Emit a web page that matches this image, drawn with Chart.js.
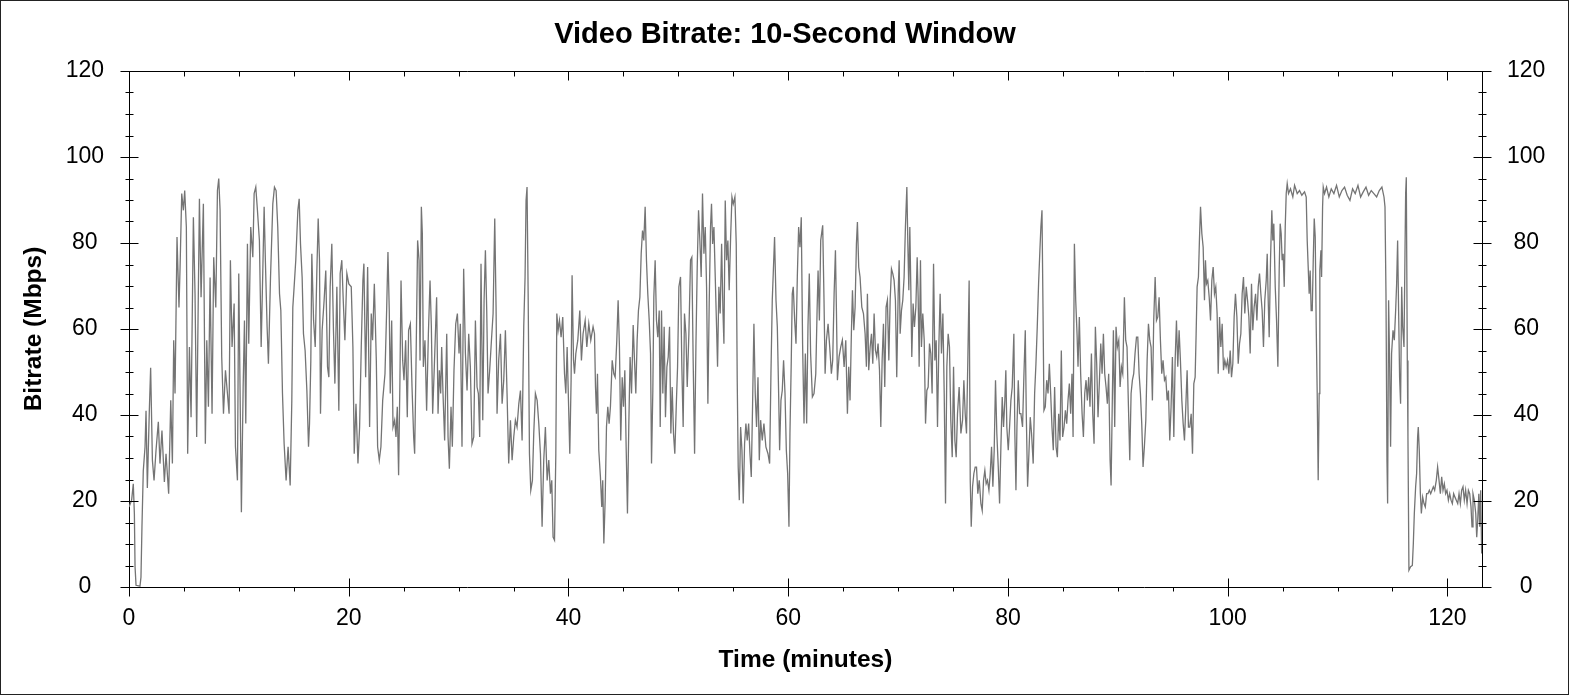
<!DOCTYPE html>
<html>
<head>
<meta charset="utf-8">
<title>Video Bitrate: 10-Second Window</title>
<script src="https://cdn.jsdelivr.net/npm/chart.js@4.4.1/dist/chart.umd.min.js"></script>
<style>
  html, body { margin: 0; padding: 0; background: #fff; }
  #grafico { display: block; }
</style>
</head>
<body>
<canvas id="grafico" width="1570" height="695"></canvas>
<script>
// tempo (minutos) e bitrate (Mbps)
const minutos = [
  0, 0.24, 0.39, 0.49, 0.55, 0.64, 1.0, 1.09, 1.18, 1.3, 1.46, 1.55, 1.67, 1.85, 1.97, 2.13, 2.28, 2.46, 2.67, 2.82,
  3.0, 3.22, 3.37, 3.61, 3.8, 3.95, 4.07, 4.19, 4.37, 4.55, 4.65, 4.8, 4.95, 5.07, 5.22, 5.34, 5.5, 5.65, 5.86, 6.01,
  6.16, 6.41, 6.56, 6.77, 6.95, 7.08, 7.23, 7.38, 7.56, 7.71, 7.9, 8.05, 8.17, 8.29, 8.44, 8.6, 8.78, 8.96, 9.11, 9.23,
  9.38, 9.57, 9.69, 9.87, 9.99, 10.11, 10.23, 10.39, 10.51, 10.63, 10.78, 10.9, 11.08, 11.27, 11.39, 11.54, 11.69, 11.87, 12.03, 12.18,
  12.3, 12.42, 12.57, 12.69, 12.88, 13.09, 13.24, 13.39, 13.54, 13.7, 13.82, 13.97, 14.12, 14.3, 14.48, 14.67, 14.82, 14.91, 15.03, 15.18,
  15.37, 15.49, 15.61, 15.76, 15.88, 16.03, 16.19, 16.34, 16.43, 16.55, 16.64, 16.8, 16.95, 17.1, 17.22, 17.34, 17.43, 17.58, 17.76, 17.91,
  18.07, 18.19, 18.31, 18.46, 18.61, 18.74, 18.92, 19.1, 19.22, 19.37, 19.5, 19.65, 19.83, 20.01,
  20.23, 20.38, 20.5, 20.66, 20.84, 20.99, 21.14, 21.29, 21.38, 21.54, 21.72, 21.9, 22.05, 22.17, 22.33, 22.51, 22.63, 22.78, 22.93, 23.09,
  23.3, 23.45, 23.57, 23.69, 23.78, 23.91, 24.03, 24.18, 24.3, 24.42, 24.54, 24.66, 24.76, 24.91, 25.03, 25.18, 25.33, 25.45, 25.61, 25.76,
  25.91, 26.0, 26.12, 26.27, 26.4, 26.49, 26.61, 26.7, 26.79, 26.94, 27.09, 27.25, 27.4, 27.52, 27.64, 27.79, 27.91, 28.0, 28.13, 28.25,
  28.37, 28.46, 28.58, 28.73, 28.92, 29.04, 29.16, 29.31, 29.43, 29.58, 29.74, 29.89, 30.04, 30.16, 30.31, 30.46, 30.62, 30.77, 30.92, 31.07,
  31.22, 31.38, 31.53, 31.68, 31.8, 31.92, 32.04, 32.2, 32.32, 32.44, 32.56, 32.68, 32.83, 32.99, 33.14, 33.29, 33.41, 33.5, 33.65, 33.81,
  33.96, 34.11, 34.26, 34.41, 34.56, 34.72, 34.87, 35.02, 35.17, 35.32, 35.48, 35.63, 35.78, 35.93, 36.05, 36.14, 36.23, 36.33, 36.45, 36.57,
  36.72, 36.84, 36.99, 37.15, 37.3, 37.45, 37.6, 37.75, 37.9, 38.06, 38.21, 38.36, 38.48, 38.6, 38.73, 38.85, 38.94, 39.06, 39.18, 39.33,
  39.48, 39.64, 39.76, 39.88, 40.0, 40.12, 40.24, 40.33, 40.46, 40.55, 40.67, 40.85, 41.03,
  41.18, 41.33, 41.52, 41.67, 41.85, 42.03, 42.24, 42.37, 42.46, 42.55, 42.64, 42.76, 42.91, 43.03, 43.12, 43.22, 43.34, 43.46, 43.58, 43.7,
  43.82, 43.98, 44.13, 44.25, 44.4, 44.52, 44.64, 44.76, 44.89, 45.01, 45.13, 45.25, 45.37, 45.49, 45.61, 45.74, 45.89, 46.01, 46.13, 46.25,
  46.37, 46.5, 46.62, 46.74, 46.86, 46.98, 47.1, 47.22, 47.35, 47.47, 47.56, 47.68, 47.77, 47.89, 48.01, 48.13, 48.26, 48.35, 48.47, 48.59,
  48.71, 48.83, 48.96, 49.08, 49.2, 49.32, 49.44, 49.56, 49.68, 49.81, 49.93, 50.05, 50.2, 50.32, 50.44, 50.56, 50.69, 50.81, 50.96, 51.11,
  51.23, 51.35, 51.48, 51.6, 51.72, 51.84, 51.96, 52.08, 52.2, 52.33, 52.45, 52.57, 52.69, 52.81, 52.93, 53.02, 53.12, 53.24, 53.36, 53.48,
  53.57, 53.69, 53.81, 53.94, 54.06, 54.15, 54.27, 54.39, 54.51, 54.63, 54.76, 54.88, 55.0, 55.15, 55.27, 55.36, 55.45, 55.55, 55.67, 55.79,
  55.91, 56.03, 56.15, 56.27, 56.4, 56.52, 56.64, 56.76, 56.88, 57.0, 57.12, 57.25, 57.37, 57.49, 57.64, 57.79, 57.97, 58.16, 58.31, 58.43,
  58.55, 58.64, 58.76, 58.89, 59.01, 59.13, 59.22, 59.34, 59.46, 59.58, 59.71, 59.83, 59.95, 60.07, 60.16, 60.28, 60.37, 60.46, 60.59, 60.71,
  60.83, 60.95, 61.07, 61.19, 61.31, 61.44, 61.56, 61.68, 61.8, 61.92, 62.04,
  62.2, 62.35, 62.51, 62.63, 62.72, 62.84, 62.96, 63.14, 63.26, 63.36, 63.48, 63.63, 63.78, 63.93, 64.05, 64.18, 64.3, 64.39, 64.48, 64.63,
  64.78, 64.93, 65.09, 65.24, 65.39, 65.51, 65.63, 65.75, 65.85, 65.97, 66.09, 66.21, 66.3, 66.42, 66.54, 66.7, 66.85, 67.0, 67.12, 67.21,
  67.33, 67.46, 67.58, 67.7, 67.82, 67.94, 68.06, 68.18, 68.31, 68.43, 68.55, 68.67, 68.79, 68.91, 69.03, 69.16, 69.28, 69.4, 69.52, 69.64,
  69.76, 69.88, 70.01, 70.1, 70.19, 70.31, 70.43, 70.55, 70.67, 70.8, 70.89, 70.98, 71.07, 71.16, 71.25, 71.37, 71.49, 71.62, 71.74, 71.83,
  71.92, 72.04, 72.13, 72.25, 72.38, 72.5, 72.62, 72.74, 72.86, 72.98, 73.1, 73.23, 73.35, 73.47, 73.59, 73.71, 73.83, 73.95, 74.08, 74.2,
  74.32, 74.44, 74.56, 74.68, 74.8, 74.93, 75.05, 75.17, 75.29, 75.41, 75.56, 75.72, 75.87, 75.99, 76.11, 76.23, 76.35, 76.47, 76.57, 76.66,
  76.78, 76.9, 77.02, 77.14, 77.26, 77.39, 77.54, 77.66, 77.78, 77.9, 78.02, 78.14, 78.27, 78.39, 78.51, 78.63, 78.75, 78.87, 78.99, 79.12,
  79.24, 79.36, 79.48, 79.6, 79.72, 79.81, 79.9, 80.03, 80.15, 80.27, 80.39, 80.54, 80.63, 80.73, 80.82, 80.94, 81.06, 81.18, 81.33, 81.45,
  81.58, 81.67, 81.79, 81.91, 82.03, 82.15, 82.3, 82.43, 82.55, 82.67, 82.79, 82.91, 83.0,
  83.1, 83.19, 83.28, 83.4, 83.53, 83.65, 83.77, 83.89, 84.01, 84.13, 84.25, 84.38, 84.5, 84.62, 84.74, 84.86, 84.98, 85.11, 85.23, 85.35,
  85.47, 85.59, 85.71, 85.83, 85.93, 86.05, 86.17, 86.29, 86.38, 86.5, 86.62, 86.75, 86.87, 86.99, 87.11, 87.23, 87.35, 87.47, 87.6, 87.72,
  87.84, 87.96, 88.08, 88.2, 88.33, 88.45, 88.57, 88.69, 88.81, 88.93, 89.05, 89.17, 89.3, 89.39, 89.51, 89.6, 89.72, 89.84, 89.96, 90.09,
  90.21, 90.33, 90.45, 90.6, 90.72, 90.84, 90.97, 91.09, 91.21, 91.33, 91.45, 91.57, 91.7, 91.82, 91.94, 92.06, 92.18, 92.3, 92.42, 92.55,
  92.67, 92.79, 92.91, 93.03, 93.15, 93.27, 93.4, 93.52, 93.64, 93.76, 93.88, 94.0, 94.12, 94.25, 94.37, 94.49, 94.61, 94.73, 94.85, 94.97,
  95.1, 95.22, 95.34, 95.46, 95.58, 95.7, 95.83, 95.95, 96.07, 96.19, 96.31, 96.43, 96.55, 96.68, 96.8, 96.92, 97.04, 97.13, 97.22, 97.34,
  97.43, 97.53, 97.65, 97.77, 97.89, 97.98, 98.07, 98.19, 98.32, 98.44, 98.56, 98.68, 98.8, 98.92, 99.04, 99.14, 99.26, 99.38, 99.5, 99.62,
  99.74, 99.86, 99.99, 100.11, 100.23, 100.35, 100.47, 100.59, 100.71, 100.84, 100.96, 101.08, 101.2, 101.32, 101.44, 101.56, 101.69, 101.81, 101.93, 102.05,
  102.17, 102.29, 102.41, 102.54, 102.66, 102.78, 102.9, 103.02,
  103.14, 103.26, 103.38, 103.51, 103.6, 103.69, 103.78, 103.9, 104.02, 104.11, 104.2, 104.33, 104.45, 104.57, 104.69, 104.78, 104.87, 104.96, 105.05, 105.15,
  105.24, 105.33, 105.42, 105.54, 105.72, 105.93, 106.09, 106.33, 106.54, 106.75, 107.0, 107.15, 107.24, 107.33, 107.42, 107.51, 107.6, 107.7, 107.79, 107.88,
  107.97, 108.06, 108.15, 108.24, 108.33, 108.39, 108.49, 108.55, 108.64, 108.7, 108.82, 109.0, 109.21, 109.43, 109.67, 109.91, 110.16, 110.4, 110.64, 110.88,
  111.13, 111.37, 111.61, 111.86, 112.1, 112.34, 112.59, 112.83, 113.07, 113.31, 113.56, 113.8, 114.04, 114.23, 114.32, 114.41, 114.5, 114.56, 114.65, 114.74,
  114.83, 114.92, 115.05, 115.17, 115.29, 115.38, 115.47, 115.56, 115.65, 115.74, 115.84, 115.93, 116.05, 116.14, 116.2, 116.26, 116.35, 116.41, 116.5, 116.65,
  116.81, 116.9, 116.99, 117.11, 117.2, 117.29, 117.35, 117.44, 117.54, 117.63, 117.75, 117.87, 117.99, 118.11, 118.23, 118.36, 118.48, 118.6, 118.72, 118.84,
  118.99, 119.11, 119.24, 119.36, 119.48, 119.6, 119.72, 119.84, 119.96, 120.09, 120.21, 120.33, 120.45, 120.57, 120.69, 120.81, 120.94, 121.06, 121.18, 121.3,
  121.42, 121.54, 121.66, 121.79, 121.91, 122.03, 122.15, 122.24, 122.33, 122.45, 122.58, 122.67, 122.76, 122.86, 122.94, 123.03, 123.12, 123.21
];

const bitrate = [
  18.6, 20.2, 24.0, 17.0, 4.7, 0.4, 0.2, 2.3, 14.0, 27.0, 32.6, 41.0, 23.0, 41.0, 51.0, 29.5, 24.8, 31.8, 38.4, 28.7,
  36.4, 24.4, 31.0, 21.7, 43.4, 28.7, 57.4, 45.0, 81.4, 65.0, 74.4, 91.5, 87.6, 92.2, 83.7, 31.0, 55.8, 39.5, 86.0, 68.2,
  34.9, 90.3, 67.4, 89.1, 33.3, 57.4, 41.9, 72.0, 40.3, 76.7, 65.0, 92.2, 95.0, 87.6, 53.5, 40.3, 50.4, 45.0, 40.3, 76.0,
  55.8, 65.9, 32.6, 24.8, 72.9, 45.7, 17.4, 46.5, 62.0, 38.0, 79.8, 56.6, 83.7, 76.7, 91.5, 93.0, 87.6, 80.6, 55.8, 73.6,
  88.4, 75.2, 60.5, 51.9, 72.0, 89.1, 93.0, 92.2, 83.7, 68.2, 64.3, 45.0, 33.3, 24.8, 32.6, 23.6, 43.4, 65.0, 69.8, 76.0,
  87.6, 90.3, 79.8, 72.0, 58.9, 55.0, 45.7, 32.6, 38.0, 52.7, 77.5, 62.0, 55.8, 73.6, 85.7, 76.0, 40.3, 59.7, 66.7, 73.6,
  51.2, 48.8, 69.8, 79.8, 59.7, 47.3, 69.8, 41.0, 72.9, 76.0, 66.7, 57.4, 72.9, 70.5,
  69.8, 55.8, 31.0, 42.6, 28.7, 37.2, 55.8, 71.3, 75.2, 48.8, 74.4, 37.2, 63.6, 57.4, 70.5, 52.7, 32.6, 29.5, 32.6, 43.4,
  49.6, 64.3, 77.9, 64.3, 45.0, 62.0, 37.2, 38.8, 34.9, 41.9, 26.0, 48.1, 71.3, 52.7, 48.1, 57.4, 39.5, 59.7, 61.2, 46.5,
  34.9, 31.0, 51.2, 80.6, 76.0, 52.7, 88.4, 82.2, 51.2, 57.4, 41.0, 58.9, 71.3, 60.5, 40.3, 51.2, 60.5, 67.4, 40.3, 50.4,
  45.0, 55.8, 45.0, 34.1, 58.9, 34.9, 27.5, 41.9, 32.6, 50.4, 61.2, 63.6, 54.3, 61.2, 32.6, 74.0, 54.3, 45.7, 58.9, 51.2,
  33.3, 34.9, 62.0, 46.5, 45.0, 34.9, 75.2, 38.8, 66.7, 78.3, 64.3, 45.0, 50.4, 57.4, 63.6, 85.7, 65.1, 40.3, 52.7, 58.9,
  42.6, 48.1, 59.7, 45.0, 28.7, 38.8, 29.5, 34.9, 38.8, 37.2, 42.6, 45.7, 34.1, 60.5, 72.1, 89.9, 93.0, 68.2, 31.0, 22.5,
  24.8, 35.7, 45.0, 43.4, 38.0, 31.0, 14.0, 29.5, 37.2, 24.8, 29.5, 21.7, 24.8, 11.6, 10.9, 31.0, 63.6, 59.7, 62.0, 58.1,
  62.8, 49.6, 45.0, 55.8, 43.4, 31.0, 48.1, 72.5, 52.7, 49.6, 54.3, 57.4, 64.3,
  52.7, 58.9, 62.0, 55.8, 61.2, 57.4, 60.5, 58.9, 46.5, 40.3, 49.6, 31.8, 25.6, 18.6, 24.8, 10.1, 20.2, 37.2, 41.9, 38.0,
  41.9, 52.7, 49.6, 48.8, 57.4, 66.7, 55.8, 34.1, 48.8, 41.9, 50.4, 32.6, 17.1, 37.2, 53.5, 45.0, 60.9, 52.7, 45.0, 57.4,
  64.3, 67.4, 77.5, 82.9, 80.6, 88.4, 76.0, 68.2, 62.0, 54.3, 28.7, 45.7, 67.4, 76.0, 62.0, 58.1, 64.3, 37.2, 64.3, 45.0,
  60.5, 39.5, 51.2, 53.5, 60.5, 35.7, 46.5, 35.7, 31.0, 41.9, 51.2, 69.8, 72.1, 51.2, 37.2, 63.6, 58.9, 46.5, 58.9, 76.0,
  76.7, 52.7, 31.0, 55.8, 74.4, 87.6, 80.6, 72.1, 91.5, 77.5, 83.7, 69.8, 42.6, 65.9, 83.7, 89.1, 79.8, 83.7, 72.1, 60.5,
  51.2, 69.8, 63.6, 79.8, 64.3, 56.6, 89.9, 76.0, 80.6, 69.0, 81.4, 90.7, 89.1, 90.7, 79.8, 48.1, 27.9, 20.2, 37.2, 31.8,
  19.4, 33.3, 38.0, 34.1, 38.0, 31.0, 25.6, 42.6, 61.2, 45.0, 37.2, 48.8, 29.5, 38.8, 34.1, 38.0, 32.6, 31.0, 28.7, 49.6,
  66.7, 72.9, 81.4, 66.7, 60.5, 45.0, 31.8, 43.4, 45.7, 52.7, 45.0, 31.8, 26.4, 14.0, 35.7, 52.7, 68.2, 69.8, 62.0, 56.6,
  72.1, 83.7, 79.0, 86.0, 56.6, 38.0, 54.3, 38.0, 60.5, 72.9, 54.3,
  44.2, 45.0, 49.6, 64.3, 73.6, 62.0, 80.6, 84.1, 66.7, 49.6, 57.4, 61.2, 55.8, 49.6, 52.7, 68.2, 78.3, 64.3, 48.1, 53.5,
  55.8, 57.4, 51.2, 57.4, 40.3, 51.2, 43.4, 58.9, 69.0, 59.7, 65.1, 79.8, 84.9, 74.4, 72.1, 65.1, 63.6, 58.9, 51.2, 68.2,
  50.4, 55.8, 58.9, 51.9, 63.6, 55.0, 53.5, 56.6, 50.4, 37.2, 52.7, 61.2, 46.5, 65.1, 66.7, 52.7, 66.7, 74.0, 72.9, 71.3,
  66.7, 48.8, 68.2, 76.0, 58.9, 64.3, 66.7, 72.1, 83.7, 93.0, 79.8, 69.0, 83.7, 69.8, 53.5, 65.9, 60.5, 65.1, 76.7, 67.4,
  51.2, 76.0, 55.8, 63.6, 57.4, 38.0, 45.7, 46.5, 56.6, 54.3, 45.0, 75.2, 52.7, 57.4, 37.2, 55.8, 68.2, 54.3, 63.6, 45.0,
  19.4, 51.2, 58.9, 55.8, 38.8, 30.2, 51.2, 34.1, 30.2, 40.3, 46.5, 35.7, 38.8, 48.1, 40.3, 35.7, 52.7, 71.3, 24.8, 14.0,
  23.3, 26.4, 27.9, 27.9, 21.7, 24.8, 19.4, 17.8, 24.8, 27.1, 24.0, 24.8, 22.5, 26.4, 32.6, 23.3, 31.8, 48.1, 35.7, 27.9,
  19.4, 32.6, 44.2, 37.2, 43.4, 50.4, 37.2, 31.8, 37.2, 43.4, 46.5, 58.9, 35.7, 22.5, 37.2, 48.1, 40.3, 40.3, 37.2, 48.8,
  59.7, 40.3, 23.3, 31.0, 39.5, 35.7, 28.7, 45.0, 51.9, 60.5, 70.5, 78.3, 83.7,
  87.6, 65.1, 41.1, 41.9, 48.1, 45.0, 51.9, 45.0, 37.2, 31.8, 46.5, 32.6, 30.2, 40.3, 34.1, 55.0, 34.9, 37.2, 41.1, 38.0,
  43.4, 47.3, 40.3, 49.6, 34.9, 79.8, 66.7, 58.9, 51.2, 62.8, 49.6, 40.3, 34.9, 45.0, 48.1, 43.4, 48.8, 41.9, 54.3, 40.3,
  33.3, 60.5, 51.9, 39.5, 48.1, 56.6, 49.6, 58.9, 49.6, 46.5, 42.6, 49.6, 29.5, 23.6, 45.0, 59.7, 37.2, 60.5, 55.8, 57.4,
  46.5, 51.2, 49.6, 67.4, 57.4, 55.8, 41.9, 29.5, 45.0, 48.1, 49.6, 54.3, 58.1, 58.1, 49.6, 45.0, 38.0, 27.9, 32.6, 38.8,
  52.7, 61.2, 57.4, 55.8, 43.4, 62.0, 72.1, 62.0, 62.8, 67.4, 57.4, 49.6, 52.7, 48.1, 48.8, 43.4, 45.7, 34.1, 41.9, 53.5,
  34.9, 52.7, 62.0, 51.2, 59.7, 52.7, 43.4, 38.0, 34.1, 41.9, 50.4, 37.2, 37.2, 40.3, 31.0, 47.3, 48.8, 58.9, 69.8, 72.1,
  80.6, 88.4, 82.2, 79.0, 66.7, 76.0, 70.5, 71.3, 67.4, 62.0, 71.3, 74.4, 68.2, 69.8, 63.6, 49.6, 62.8, 55.8, 61.2, 50.4,
  52.7, 51.2, 52.7, 49.6, 55.0, 48.8, 51.9, 62.8, 68.2, 62.8, 51.9, 56.6, 58.9, 68.2, 72.1, 63.6, 69.8, 66.7, 62.8, 54.3,
  70.5, 59.7, 65.1, 68.2, 62.0, 69.8, 72.9, 68.2,
  64.3, 55.8, 66.7, 71.3, 77.5, 66.7, 58.1, 76.0, 87.6, 80.6, 84.5, 69.8, 62.0, 51.2, 73.6, 84.5, 82.2, 76.0, 77.5, 69.8,
  83.7, 91.5, 93.8, 91.5, 92.6, 90.7, 93.4, 91.5, 92.2, 91.1, 91.9, 90.7, 80.6, 74.4, 68.2, 73.6, 64.3, 64.3, 76.0, 85.7,
  81.4, 60.5, 45.0, 24.8, 45.0, 73.6, 78.3, 72.1, 88.4, 93.0, 91.5, 93.0, 90.7, 92.6, 91.5, 93.4, 90.7, 92.2, 93.0, 91.1,
  89.9, 92.6, 91.5, 93.4, 90.7, 91.9, 93.0, 91.1, 92.2, 91.5, 90.7, 92.2, 93.0, 90.7, 88.4, 68.2, 29.5, 19.4, 66.7, 52.7,
  32.6, 54.3, 59.7, 57.4, 64.3, 70.5, 80.6, 64.3, 48.8, 42.6, 69.8, 60.5, 55.8, 77.5, 91.5, 95.3, 52.7, 34.9, 3.9, 4.7,
  5.0, 10.1, 17.1, 23.3, 26.4, 34.9, 37.2, 31.8, 21.7, 17.1, 20.9, 19.4, 18.6, 21.7, 21.7, 22.5, 21.7, 22.5, 23.3, 22.5,
  24.8, 27.9, 24.8, 21.7, 25.6, 22.5, 24.0, 21.7, 22.5, 20.2, 21.7, 20.2, 19.4, 21.7, 20.9, 20.2, 19.4, 21.7, 19.4, 22.5,
  23.3, 20.2, 22.5, 19.4, 22.5, 21.7, 18.6, 14.0, 21.7, 20.2, 17.1, 11.6, 15.5, 21.7, 14.0, 22.5, 7.8, 10.9
];

const ticksTempo = [0, 20, 40, 60, 80, 100, 120];
const ticksBitrate = [0, 20, 40, 60, 80, 100, 120];

const fonte = "'Liberation Sans', Arial, Helvetica, sans-serif";

// moldura, marcas dos eixos e borda externa
const moldura = {
  id: "moldura",
  beforeDraw(chart) {
    const ctx = chart.ctx;
    ctx.save();
    ctx.fillStyle = "#fff";
    ctx.fillRect(0, 0, chart.width, chart.height);
    ctx.restore();
  },
  afterDraw(chart) {
    const { ctx, chartArea: area, scales } = chart;
    const esq = Math.round(area.left) + 0.5;
    const dir = Math.round(area.right) + 0.5;
    const topo = Math.round(area.top) + 0.5;
    const base = Math.round(area.bottom) + 0.5;
    ctx.save();
    ctx.strokeStyle = "#000";
    ctx.lineWidth = 1;
    ctx.beginPath();
    ctx.moveTo(esq, topo);
    ctx.lineTo(dir, topo);
    for (let v = 0; v <= 120; v += 5) {
      const py = Math.round(scales.y.getPixelForValue(v)) + 0.5;
      const tam = v % 20 === 0 ? 9 : 4;
      ctx.moveTo(esq - tam, py);
      ctx.lineTo(esq + tam, py);
      ctx.moveTo(dir - tam, py);
      ctx.lineTo(dir + tam, py);
    }
    for (let v = 0; v <= scales.x.max; v += 5) {
      const px = Math.round(scales.x.getPixelForValue(v)) + 0.5;
      const maior = v % 20 === 0;
      ctx.moveTo(px, base + (maior ? 9 : 4));
      ctx.lineTo(px, maior ? base - 9 : base);
      ctx.moveTo(px, topo);
      ctx.lineTo(px, topo + (maior ? 9 : 5));
    }
    ctx.stroke();
    ctx.strokeStyle = "#222";
    ctx.strokeRect(0.5, 0.5, chart.width - 2, chart.height - 1);
    ctx.restore();
  },
};

const fonteTick = { family: fonte, size: 23 };
const fonteTitulo = { family: fonte, size: 24.5, weight: "bold" };

const grafico = new Chart(document.getElementById("grafico"), {
  type: "line",
  data: {
    datasets: [
      {
        label: "Bitrate",
        data: minutos.map((m, i) => ({ x: m, y: bitrate[i] })),
        borderColor: "#747474",
        borderWidth: 1.3,
        pointRadius: 0,
        tension: 0,
        fill: false,
      },
    ],
  },
  options: {
    responsive: false,
    animation: false,
    devicePixelRatio: 1,
    layout: { padding: 0 },
    plugins: {
      legend: { display: false },
      tooltip: { enabled: false },
      title: {
        display: true,
        text: "Video Bitrate: 10-Second Window",
        color: "#000",
        font: { family: fonte, size: 29, weight: "bold" },
        padding: { top: 17.5, bottom: 18.7 },
      },
    },
    scales: {
      x: {
        type: "linear",
        position: "bottom",
        min: 0,
        max: 123.15,
        afterBuildTicks: (escala) => {
          escala.ticks = ticksTempo.map((v) => ({ value: v }));
        },
        afterFit: (escala) => {
          escala.height = 108;
        },
        ticks: { color: "#000", font: fonteTick, padding: 18, maxRotation: 0, autoSkip: false },
        grid: { display: false, drawTicks: false },
        border: { display: true, color: "#000", width: 1 },
        title: {
          display: true,
          text: "Time (minutes)",
          color: "#000",
          font: fonteTitulo,
          padding: { top: 0, bottom: 20.5 },
        },
      },
      y: {
        type: "linear",
        position: "left",
        min: 0,
        max: 120,
        afterBuildTicks: (escala) => {
          escala.ticks = ticksBitrate.map((v) => ({ value: v }));
        },
        afterFit: (escala) => {
          escala.width = 129;
        },
        ticks: { color: "#000", font: fonteTick, padding: 25, crossAlign: "center" },
        grid: { display: false, drawTicks: false },
        border: { display: true, color: "#000", width: 1 },
        title: {
          display: true,
          text: "Bitrate (Mbps)",
          color: "#000",
          font: fonteTitulo,
          padding: { top: 20, bottom: 0 },
        },
      },
      y2: {
        type: "linear",
        position: "right",
        min: 0,
        max: 120,
        afterBuildTicks: (escala) => {
          escala.ticks = ticksBitrate.map((v) => ({ value: v }));
        },
        afterFit: (escala) => {
          escala.width = 88;
        },
        ticks: { color: "#000", font: fonteTick, padding: 25, crossAlign: "center" },
        grid: { display: false, drawTicks: false },
        border: { display: true, color: "#000", width: 1 },
      },
    },
  },
  plugins: [moldura],
});
</script>
</body>
</html>
